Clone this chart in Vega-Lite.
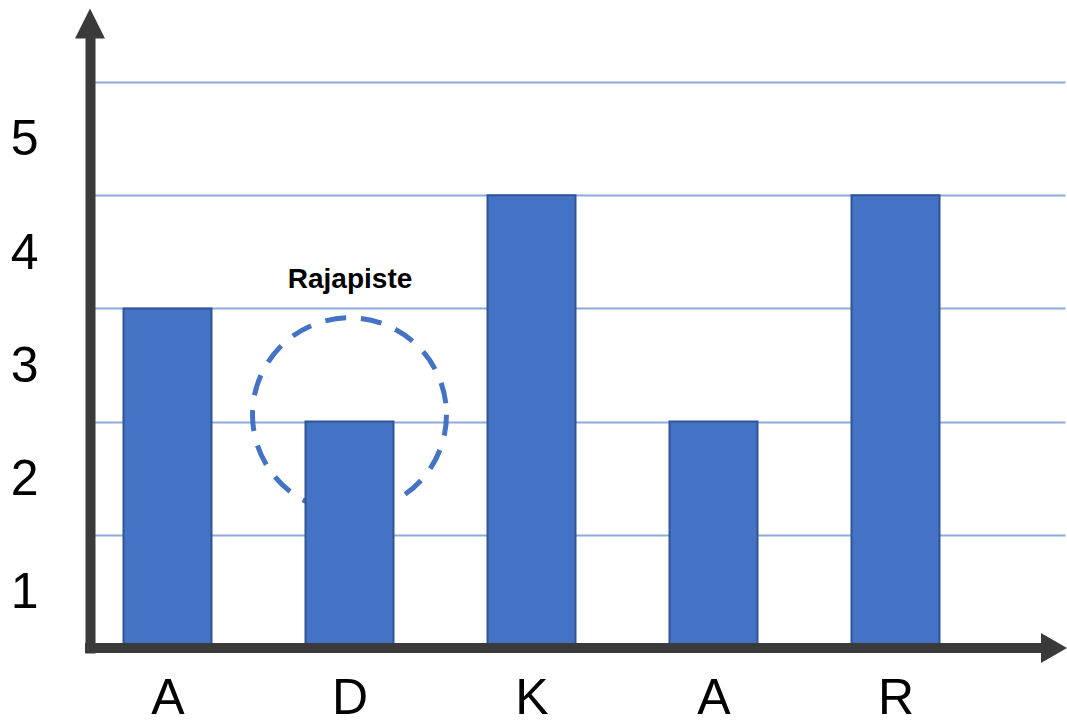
{
  "$schema": "https://vega.github.io/schema/vega-lite/v6.json",
  "width": 975,
  "height": 618,
  "autosize": "none",
  "padding": {"left": 90, "top": 30, "right": 2, "bottom": 74},
  "background": "white",
  "config": {
    "view": {"stroke": null},
    "font": "Liberation Sans"
  },
  "layer": [
    {
      "description": "Dashed ring around the border point",
      "data": {"values": [{"x": 2.0, "y": 2.06}]},
      "mark": {
        "type": "point",
        "shape": "circle",
        "filled": false,
        "opacity": 1,
        "size": 37636,
        "stroke": "#4472C4",
        "strokeWidth": 5,
        "strokeDash": [21, 15]
      },
      "encoding": {
        "x": {"field": "x", "type": "quantitative"},
        "y": {"field": "y", "type": "quantitative"}
      }
    },
    {
      "data": {
        "values": [
          {"pos": 1, "letter": "A", "value": 3},
          {"pos": 2, "letter": "D", "value": 2},
          {"pos": 3, "letter": "K", "value": 4},
          {"pos": 4, "letter": "A", "value": 2},
          {"pos": 5, "letter": "R", "value": 4}
        ]
      },
      "mark": {
        "type": "bar",
        "size": 88,
        "color": "#4472C4",
        "stroke": "#2F5597",
        "strokeWidth": 2
      },
      "encoding": {
        "x": {
          "field": "pos",
          "type": "quantitative",
          "scale": {"domain": [0.5742, 5.9313], "nice": false, "zero": false, "padding": 0},
          "axis": {
            "title": null,
            "values": [1, 2, 3, 4, 5],
            "labelExpr": "['', 'A', 'D', 'K', 'A', 'R'][datum.value]",
            "domain": false,
            "ticks": false,
            "grid": false,
            "labelFontSize": 50,
            "labelColor": "#000000",
            "labelPadding": 25,
            "labelFlush": false,
            "labelOverlap": false
          }
        },
        "y": {
          "field": "value",
          "type": "quantitative",
          "scale": {"domain": [0, 5.459], "nice": false, "padding": 0},
          "axis": {
            "title": null,
            "values": [1, 2, 3, 4, 5],
            "format": "d",
            "domain": true,
            "domainColor": "#3a3a3a",
            "domainWidth": 10,
            "domainCap": "square",
            "ticks": false,
            "tickSize": 0,
            "grid": true,
            "gridColor": "#8EAADB",
            "gridWidth": 2,
            "labelFontSize": 50,
            "labelColor": "#000000",
            "labelPadding": 52,
            "labelOffset": 58,
            "labelBaseline": "middle",
            "labelFlush": false,
            "labelOverlap": false
          }
        }
      }
    },
    {
      "description": "Horizontal axis line",
      "data": {"values": [{"x": 0.5742, "x2": 5.8214, "y": 0}]},
      "mark": {"type": "rule", "color": "#3a3a3a", "strokeWidth": 10, "strokeCap": "square"},
      "encoding": {
        "x": {"field": "x", "type": "quantitative"},
        "x2": {"field": "x2"},
        "y": {"field": "y", "type": "quantitative"}
      }
    },
    {
      "description": "Arrowhead on the vertical axis",
      "data": {"values": [{"x": 0.5742, "y": 5.517}]},
      "mark": {
        "type": "point",
        "shape": "M0,-1L1,1L-1,1Z",
        "filled": true,
        "opacity": 1,
        "size": 900,
        "color": "#3a3a3a"
      },
      "encoding": {
        "x": {"field": "x", "type": "quantitative"},
        "y": {"field": "y", "type": "quantitative"}
      }
    },
    {
      "description": "Arrowhead on the horizontal axis",
      "data": {"values": [{"x": 5.871, "y": 0}]},
      "mark": {
        "type": "point",
        "shape": "M-0.87,-1L0.87,0L-0.87,1Z",
        "filled": true,
        "opacity": 1,
        "size": 900,
        "color": "#3a3a3a"
      },
      "encoding": {
        "x": {"field": "x", "type": "quantitative"},
        "y": {"field": "y", "type": "quantitative"}
      }
    },
    {
      "data": {"values": [{"x": 2.003, "y": 3.18, "label": "Rajapiste"}]},
      "mark": {
        "type": "text",
        "fontSize": 28,
        "fontWeight": "bold",
        "color": "#000000",
        "align": "center",
        "baseline": "alphabetic"
      },
      "encoding": {
        "x": {"field": "x", "type": "quantitative"},
        "y": {"field": "y", "type": "quantitative"},
        "text": {"field": "label"}
      }
    }
  ]
}
